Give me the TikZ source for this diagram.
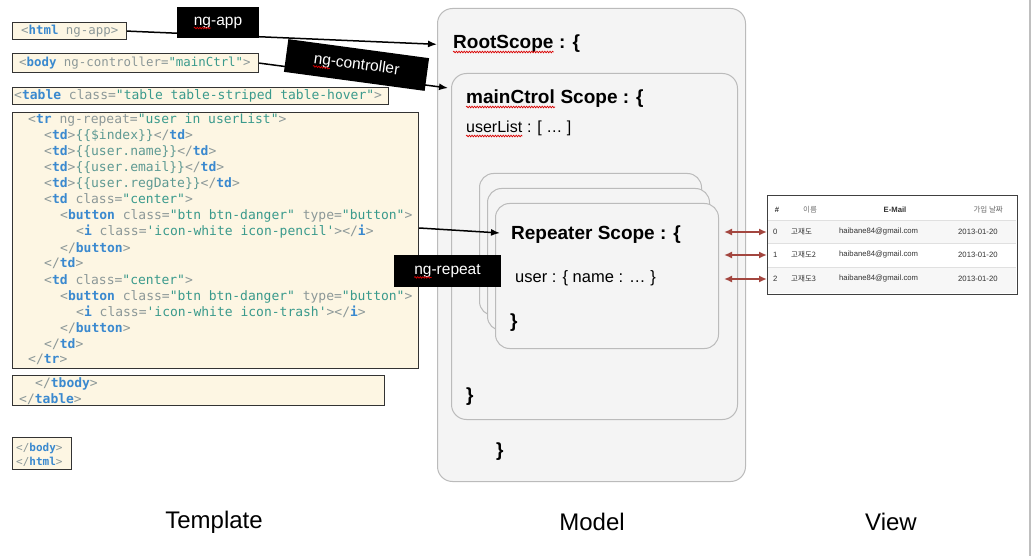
\documentclass[tikz,border=0pt]{standalone}
\usepackage{fontspec}
\setmainfont{Liberation Sans}
\setmonofont{DejaVu Sans Mono}
\newfontfamily\krfont{Noto Sans CJK KR}
\usetikzlibrary{arrows.meta,calc,decorations.pathmorphing}

\definecolor{codebg}{HTML}{FDF6E3}
\definecolor{tagblue}{HTML}{3A89CF}
\definecolor{strteal}{HTML}{3A9A8C}
\definecolor{varteal}{HTML}{5E9A93}
\definecolor{codegray}{HTML}{8C9898}
\definecolor{linkred}{HTML}{A3463F}
\definecolor{scopefill}{HTML}{F4F4F4}
\definecolor{scopeline}{HTML}{BBBBBB}

\newcommand{\cdtag}[1]{\textcolor{tagblue}{\bfseries #1}}
\newcommand{\cdstr}[1]{\textcolor{strteal}{#1}}
\newcommand{\cdvar}[1]{\textcolor{varteal}{#1}}

\begin{document}
\begin{tikzpicture}[x=1pt,y=-1pt,
  code/.style={font=\ttfamily\fontsize{13}{16}\selectfont, text=codegray, anchor=base west, inner sep=0pt},
  codebox/.style={draw=black!80, fill=codebg, line width=1.2pt, anchor=north west, inner sep=0pt},
  scopebox/.style={draw=scopeline, fill=scopefill, line width=1pt, rounded corners=15pt, anchor=north west, inner sep=0pt},
  scopehead/.style={font=\bfseries\fontsize{19}{22}\selectfont, anchor=base west, inner sep=0pt},
  scopetext/.style={font=\fontsize{16.5}{20}\selectfont, anchor=base west, inner sep=0pt},
  tagbox/.style={fill=black, text=white, font=\fontsize{15.5}{18}\selectfont, inner sep=0pt},
  conn/.style={-{Latex[length=9pt,width=7pt]}, line width=1.5pt},
  link/.style={{Latex[length=8pt,width=7pt]}-{Latex[length=8pt,width=7pt]}, color=linkred, line width=1.8pt},
  spell/.style={red!85!black, line width=0.7pt, decorate, decoration={snake, amplitude=0.8pt, segment length=2.6pt}},
  cell/.style={font=\fontsize{7.7}{9}\selectfont, text=black!80, inner sep=0pt},
  caption/.style={font=\fontsize{24}{28}\selectfont, inner sep=0pt}]

\useasboundingbox (0,0) rectangle (1031,556);
\fill[white] (0,0) rectangle (1031,556);
\draw[black!25, line width=2pt] (1030,0) -- (1030,556);

% template
\node[codebox, minimum width=114pt, minimum height=17pt] (htmlbox) at (12,22) {};
\node[code, font=\ttfamily\fontsize{12.4}{15}\selectfont] (htmlcode) at (21,35) {<\cdtag{html} ng-app>};
\node[codebox, minimum width=246pt, minimum height=19pt] (bodybox) at (12,53) {};
\node[code, font=\ttfamily\fontsize{12.4}{15}\selectfont] (bodycode) at (19,67) {<\cdtag{body} ng-controller=\cdstr{"mainCtrl"}>};
\node[codebox, minimum width=376pt, minimum height=17pt] (tablebox) at (12,87) {};
\node[code] (tablecode) at (14,100) {<\cdtag{table} class=\cdstr{"table table-striped table-hover"}>};

\node[codebox, minimum width=406pt, minimum height=256pt] (trbox) at (12,112) {};
\node[code] (c1) at (28,124) {<\cdtag{tr} ng-repeat=\cdstr{"user in userList"}>};
\node[code] (c2) at (44,140) {<\cdtag{td}>\cdvar{\{\{\$index\}\}}</\cdtag{td}>};
\node[code] (c3) at (44,156) {<\cdtag{td}>\cdvar{\{\{user.name\}\}}</\cdtag{td}>};
\node[code] (c4) at (44,172) {<\cdtag{td}>\cdvar{\{\{user.email\}\}}</\cdtag{td}>};
\node[code] (c5) at (44,188) {<\cdtag{td}>\cdvar{\{\{user.regDate\}\}}</\cdtag{td}>};
\node[code] (c6) at (44,204) {<\cdtag{td} class=\cdstr{"center"}>};
\node[code] (c7) at (60,220) {<\cdtag{button} class=\cdstr{"btn btn-danger"} type=\cdstr{"button"}>};
\node[code] (c8) at (76,236) {<\cdtag{i} class=\cdstr{'icon-white icon-pencil'}></\cdtag{i}>};
\node[code] (c9) at (60,252) {</\cdtag{button}>};
\node[code] (c10) at (44,268) {</\cdtag{td}>};
\node[code] (c11) at (44,284) {<\cdtag{td} class=\cdstr{"center"}>};
\node[code] (c12) at (60,300) {<\cdtag{button} class=\cdstr{"btn btn-danger"} type=\cdstr{"button"}>};
\node[code] (c13) at (76,316) {<\cdtag{i} class=\cdstr{'icon-white icon-trash'}></\cdtag{i}>};
\node[code] (c14) at (60,332) {</\cdtag{button}>};
\node[code] (c15) at (44,348) {</\cdtag{td}>};
\node[code] (c16) at (28,363) {</\cdtag{tr}>};

\node[codebox, minimum width=372pt, minimum height=30pt] (tbodybox) at (12,375) {};
\node[code] (tbodycode) at (35,387) {</\cdtag{tbody}>};
\node[code] (tableend) at (19,403) {</\cdtag{table}>};

\node[codebox, minimum width=59pt, minimum height=32pt] (endbox) at (12,437) {};
\node[code, font=\ttfamily\fontsize{11}{14}\selectfont] (bodyend) at (16,451) {</\cdtag{body}>};
\node[code, font=\ttfamily\fontsize{11}{14}\selectfont] (htmlend) at (16,465) {</\cdtag{html}>};

% model
\node[scopebox, minimum width=308pt, minimum height=473pt] (rootbox) at (437,8) {};
\node[scopebox, minimum width=286pt, minimum height=346pt] (ctrlbox) at (451,73) {};
\node[scopebox, rounded corners=14pt, minimum width=222pt, minimum height=142pt] (rep1) at (479,173) {};
\node[scopebox, rounded corners=14pt, minimum width=222pt, minimum height=142pt] (rep2) at (487,188) {};
\node[scopebox, rounded corners=14pt, minimum width=223pt, minimum height=145pt] (rep3) at (495,203) {};

\node[scopehead] (rootname) at (453,49) {RootScope};
\node[scopehead] (roottail) at (rootname.base east) {\ : \{};
\node[scopehead] (ctrlname) at (466,104) {mainCtrol};
\node[scopehead] (ctrltail) at (ctrlname.base east) {\ Scope : \{};
\node[scopetext, font=\fontsize{16}{19}\selectfont] (listname) at (466,133) {userList};
\node[scopetext, font=\fontsize{16}{19}\selectfont] (listtail) at (listname.base east) {\ : [ … ]};
\node[scopehead] (repname) at (511,240) {Repeater Scope : \{};
\node[scopetext] (repuser) at (515,283) {user : \{ name : … \}};
\node[scopehead] (repend) at (510,327) {\}};
\node[scopehead] (ctrlend) at (466,401) {\}};
\node[scopehead] (rootend) at (496,456) {\}};

\draw[spell] ($(rootname.base west)+(0,3)$) -- ($(rootname.base east)+(0,3)$);
\draw[spell] ($(ctrlname.base west)+(0,3)$) -- ($(ctrlname.base east)+(0,3)$);
\draw[spell] ($(listname.base west)+(0,3)$) -- ($(listname.base east)+(0,3)$);

% view
\node[draw=black!75, fill=white, line width=1.2pt, anchor=north west, minimum width=250pt, minimum height=99pt, inner sep=0pt] (viewtab) at (767,195) {};
\fill[black!3] (768,221) rectangle (1016,243);
\fill[black!3] (768,268) rectangle (1016,293);
\foreach \y in {220,243,267}
  \draw[black!12, line width=0.8pt] (768,\y) -- (1016,\y);

\node[cell, font=\bfseries\fontsize{7.7}{9}\selectfont] (hnum) at (777,210) {\#};
\node[cell, text=black!55, font=\krfont\fontsize{7.5}{9}\selectfont] (hname) at (810,210) {이름};
\node[cell, font=\bfseries\fontsize{7.7}{9}\selectfont] (hmail) at (895,210) {E-Mail};
\node[cell, anchor=east, text=black!60, font=\krfont\fontsize{7.5}{9}\selectfont] (hdate) at (1003,210) {가입 날짜};

\foreach \r/\y/\who in {0/232/고재도, 1/255/고재도2, 2/279/고재도3} {
  \node[cell, anchor=west] (row\r) at (773,\y) {\r};
  \node[cell, anchor=west, font=\krfont\fontsize{7.5}{9}\selectfont] (name\r) at (791,\y) {\who};
  \node[cell, anchor=west] (mail\r) at (839,\y) {haibane84@gmail.com};
  \node[cell, anchor=west] (date\r) at (958,\y) {2013-01-20};
}

% directives
\node[tagbox, minimum width=82pt, minimum height=31pt] (ngapp) at (218,22.5) {ng-app};
\node[tagbox, minimum width=142pt, minimum height=33pt, rotate=-7.7] (ngctrl) at (356.5,65) {ng-controller};
\node[tagbox, minimum width=107pt, minimum height=32pt] (ngrep) at (447.5,271) {ng-repeat};

\draw[spell] ($(ngapp.base)+(-24.1,3)$) -- ($(ngapp.base)+(-6.9,3)$);
\draw[spell] ($(ngrep.base)+(-33.2,3)$) -- ($(ngrep.base)+(-16,3)$);
\begin{scope}[rotate=-7.7]
  \draw[spell] ($(ngctrl.base)+(-43,3)$) -- ($(ngctrl.base)+(-25.9,3)$);
\end{scope}

\coordinate (ctrlin) at (448,88);
\draw[conn] (htmlbox.east) -- (rootbox.west |- rootname.west);
\draw[conn] (bodybox.east) -- (ctrlin);
\draw[conn] (trbox.east |- 0,228) -- ($(repname.base west)+(-11,-7)$);

\foreach \r in {0,1,2}
  \draw[link] ($(rep3.east |- row\r)+(5,0)$) -- (viewtab.west |- row\r);

% captions
\node[caption] (tmpl) at (214,522) {Template};
\node[caption] (model) at (592,522) {Model};
\node[caption] (view) at (891,522) {View};

\end{tikzpicture}
\end{document}
